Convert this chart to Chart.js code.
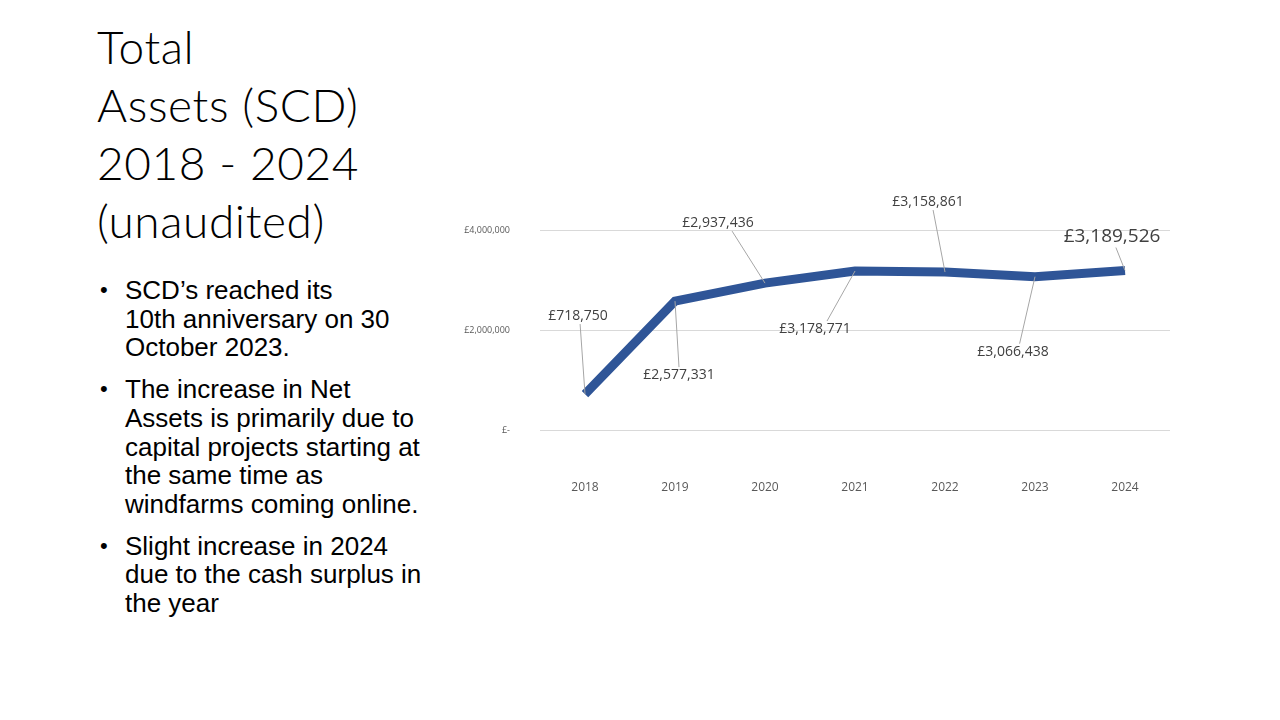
<!DOCTYPE html>
<html>
<head>
<meta charset="utf-8">
<script src="https://cdn.jsdelivr.net/npm/chart.js@4"></script>
<style>
  body { margin: 0; width: 1280px; height: 720px; background: #fff; position: relative; overflow: hidden; }
  #title { position: absolute; left: 97px; top: 18px; font-family: Lato, sans-serif; font-weight: 300;
    font-size: 46px; line-height: 58px; letter-spacing: 0.6px; color: #000; }
  #bullets { position: absolute; left: 100px; top: 276px; font-family: "Liberation Sans", Arial, sans-serif;
    font-size: 26px; line-height: 28.7px; color: #000; margin: 0; padding: 0; list-style: none; }
  #bullets li { position: relative; padding-left: 25px; margin-bottom: 13px; }
  #bullets li::before { content: "\2022"; position: absolute; left: 0; font-size: 22px; }
  #wrap { position: absolute; left: 440px; top: 170px; width: 780px; height: 360px; }
</style>
</head>
<body>
<div id="title">Total<br>Assets (SCD)<br>2018 - 2024<br>(unaudited)</div>
<ul id="bullets">
  <li>SCD’s reached its<br>10th anniversary on 30<br>October 2023.</li>
  <li>The increase in Net<br>Assets is primarily due to<br>capital projects starting at<br>the same time as<br>windfarms coming online.</li>
  <li>Slight increase in 2024<br>due to the cash surplus in<br>the year</li>
</ul>
<div id="wrap"><canvas id="myChart"></canvas></div>
<script>
const years = ['2018', '2019', '2020', '2021', '2022', '2023', '2024'];
const totalAssets = [718750, 2577331, 2937436, 3178771, 3158861, 3066438, 3189526];
const yTicks = [0, 2000000, 4000000];

// label placement relative to each point (px), drawn by the plugin below
const labelOffsets = [[-7, -78], [4, 74], [-47, -60], [-40, 58], [-17, -70], [-22, 75], [-13, -34]];

const gbp = v => v === 0 ? '£-' : '£' + v.toLocaleString('en-GB');

const dataLabels = {
  id: 'dataLabels',
  afterDatasetsDraw(chart) {
    const ctx = chart.ctx;
    const pts = chart.getDatasetMeta(0).data;
    ctx.save();
    pts.forEach((p, i) => {
      const [dx, dy] = labelOffsets[i];
      const big = i === pts.length - 1;
      const lx = p.x + dx, ly = p.y + dy;
      const half = big ? 11 : 8;
      // leader line
      ctx.strokeStyle = '#A6A6A6';
      ctx.lineWidth = 1;
      ctx.beginPath();
      ctx.moveTo(lx + (dx < 0 ? -dx * 0.3 : 0), dy < 0 ? ly + half : ly - half);
      ctx.lineTo(p.x, p.y);
      ctx.stroke();
      ctx.font = (big ? '19px' : '14px') + ' "Open Sans", sans-serif';
      ctx.fillStyle = '#404040';
      ctx.textAlign = 'center';
      ctx.textBaseline = 'middle';
      ctx.fillText(gbp(totalAssets[i]), lx, ly);
    });
    ctx.restore();
  }
};

const ctx = document.getElementById('myChart');
new Chart(ctx, {
  type: 'line',
  data: {
    labels: years,
    datasets: [{
      label: 'Total Assets',
      data: totalAssets,
      borderColor: '#2F5597',
      borderWidth: 9,
      borderJoinStyle: 'miter',
      borderCapStyle: 'butt',
      pointRadius: 0,
      tension: 0
    }]
  },
  options: {
    responsive: true,
    maintainAspectRatio: false,
    animation: false,
    layout: { padding: { top: 60, right: 50, left: 0, bottom: 0 } },
    plugins: { legend: { display: false }, tooltip: { enabled: false } },
    scales: {
      x: {
        offset: true,
        grid: { display: false },
        border: { display: false },
        ticks: { padding: 42, color: '#595959', font: { family: '"Open Sans", sans-serif', size: 12 } },
        afterFit: s => { s.height = 100; }
      },
      y: {
        min: 0,
        max: 4000000,
        afterBuildTicks: s => { s.ticks = yTicks.map(v => ({ value: v })); },
        grid: { color: '#D9D9D9', drawTicks: false },
        border: { display: false },
        ticks: { padding: 30, color: '#595959', font: { family: '"Open Sans", sans-serif', size: 9 },
          callback: v => gbp(v) },
        afterFit: s => { s.width = 100; }
      }
    }
  },
  plugins: [dataLabels]
});
</script>
</body>
</html>
